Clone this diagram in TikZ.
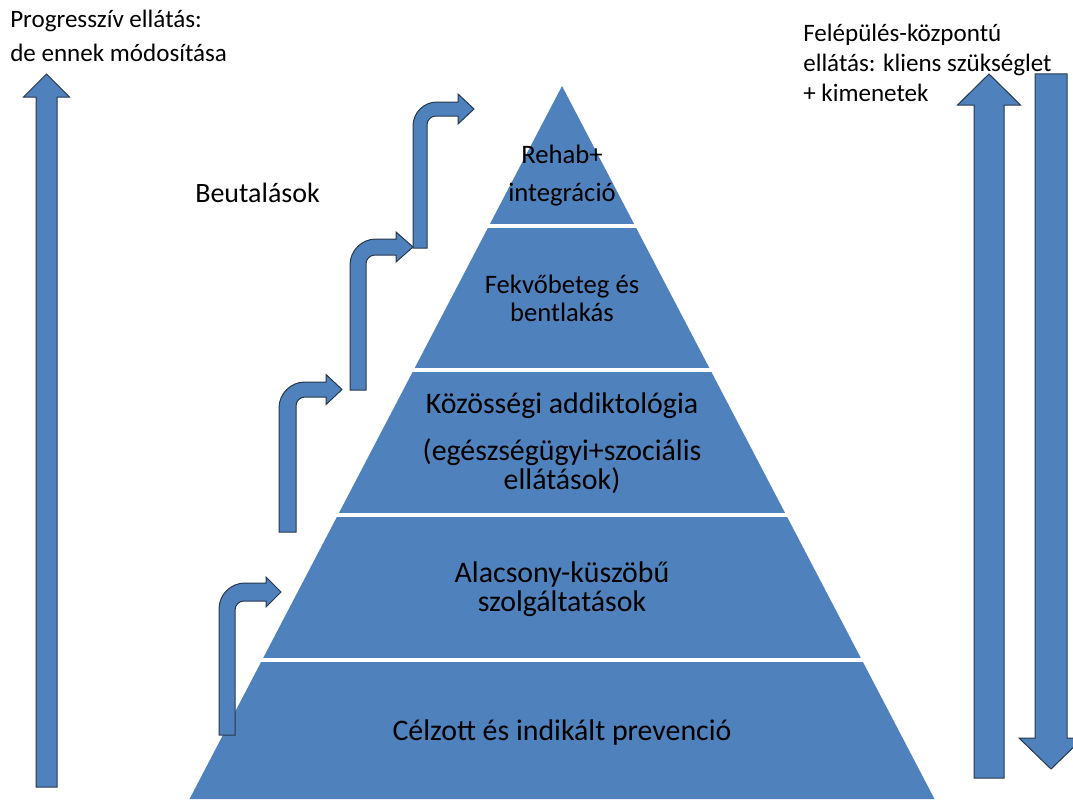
\documentclass[tikz,border=0pt]{standalone}
\usepackage{fontspec}
\setmainfont{Carlito}
\definecolor{officeblue}{HTML}{4F81BD}
\definecolor{edgedark}{HTML}{26384D}
% Vertical block arrow: name, centre x, shaft half-width, head half-width,
% tip y, head base y, tail y (works for up and down arrows)
\newcommand{\blockarrow}[7]{%
  \draw[barrow] ({#2-#3},#7) -- ({#2-#3},#6) -- ({#2-#4},#6) -- (#2,#5)
    -- ({#2+#4},#6) -- ({#2+#3},#6) -- ({#2+#3},#7) -- cycle;
  \coordinate (#1) at (#2,#5);}
% Bent-up block arrow: name, shaft left x, shaft width, bottom y, arm top y,
% arm thickness, head base x, tip x, outer corner radius
\newcommand{\bentup}[9]{%
  \draw[barrow] (#2,#4) -- (#2,{#5+#9})
    .. controls (#2,{#5+0.448*#9}) and ({#2+0.448*#9},#5) .. ({#2+#9},#5)
    -- (#7,#5) -- (#7,{#5+#6/2-15}) -- (#8,{#5+#6/2}) -- (#7,{#5+#6/2+15})
    -- (#7,{#5+#6}) -- ({#2+#3+9},{#5+#6})
    .. controls ({#2+#3+4},{#5+#6}) and ({#2+#3},{#5+#6+4}) .. ({#2+#3},{#5+#6+9})
    -- ({#2+#3},#4) -- cycle;
  \coordinate (#1) at (#8,{#5+#6/2});}
\begin{document}
\begin{tikzpicture}[x=0.75pt,y=-0.75pt,
  barrow/.style={fill=officeblue,draw=edgedark,line width=0.75pt,line join=miter},
  gap/.style={draw=white,line width=2.4pt},
  lbl/.style={anchor=base,inner sep=0pt,text=black},
  big/.style={font=\fontsize{22.4}{26}\selectfont},
  mid/.style={font=\fontsize{20}{23}\selectfont},
  side/.style={anchor=base west,inner sep=0pt,text=black}]
\useasboundingbox (0,0) rectangle (1073,799);
\clip (0,0) rectangle (1073,799);

% pyramid body
\coordinate (apex) at (562,86);
\coordinate (bl) at (189.5,799);
\coordinate (br) at (934.5,799);
\fill[officeblue] (apex) -- (br) -- (bl) -- cycle;

% white separators between the tiers
\coordinate (s1l) at (486,226); \coordinate (s1r) at (638,226);
\coordinate (s2l) at (411,370); \coordinate (s2r) at (713,370);
\coordinate (s3l) at (336,515); \coordinate (s3r) at (788,515);
\coordinate (s4l) at (260,660); \coordinate (s4r) at (864,660);
\draw[gap] (s1l) -- (s1r);
\draw[gap] (s2l) -- (s2r);
\draw[gap] (s3l) -- (s3r);
\draw[gap] (s4l) -- (s4r);

% tier labels
\node[lbl,mid] (t1a) at (562,163) {Rehab+};
\node[lbl,mid] (t1b) at (562,201) {integráció};
\node[lbl,mid] (t2a) at (562,293) {Fekvőbeteg és};
\node[lbl,mid] (t2b) at (562,321) {bentlakás};
\node[lbl,big] (t3a) at (562,413) {Közösségi addiktológia};
\node[lbl,big] (t3b) at (562,460) {(egészségügyi+szociális};
\node[lbl,big] (t3c) at (562,489) {ellátások)};
\node[lbl,big] (t4a) at (562,582) {Alacsony-küszöbű};
\node[lbl,big] (t4b) at (562,611) {szolgáltatások};
\node[lbl,big] (t5) at (562,740) {Célzott és indikált prevenció};

% referral steps
\bentup{r1}{219}{16}{735}{583}{18}{266}{281}{26}
\bentup{r2}{279}{17}{532}{382}{15}{326}{342}{26}
\bentup{r3}{350}{16}{390}{239}{16}{396}{413}{26}
\bentup{r4}{413}{14}{248}{102}{14}{458}{474}{24}
\node[side,font=\fontsize{21}{24}\selectfont] (beut) at (195,202) {Beutalások};

% side arrows
\blockarrow{lefttip}{46.5}{10.5}{23}{74}{97}{787}
\blockarrow{uptip}{989}{15}{31.5}{74}{105}{778}
\blockarrow{downtip}{1051}{16}{32}{769}{738}{74}

% corner captions
\begin{scope}[every node/.append style={font=\fontsize{18.8}{22}\selectfont}]
\node[side] (p1) at (10,28) {Progresszív ellátás:};
\node[side] (p2) at (10,61) {de ennek módosítása};
\node[side] (f1) at (803,42) {Felépülés-központú};
\node[side] (f2) at (803,72) {ellátás: kliens szükséglet};
\node[side] (f3) at (803,101) {+ kimenetek};
\end{scope}
\end{tikzpicture}
\end{document}
